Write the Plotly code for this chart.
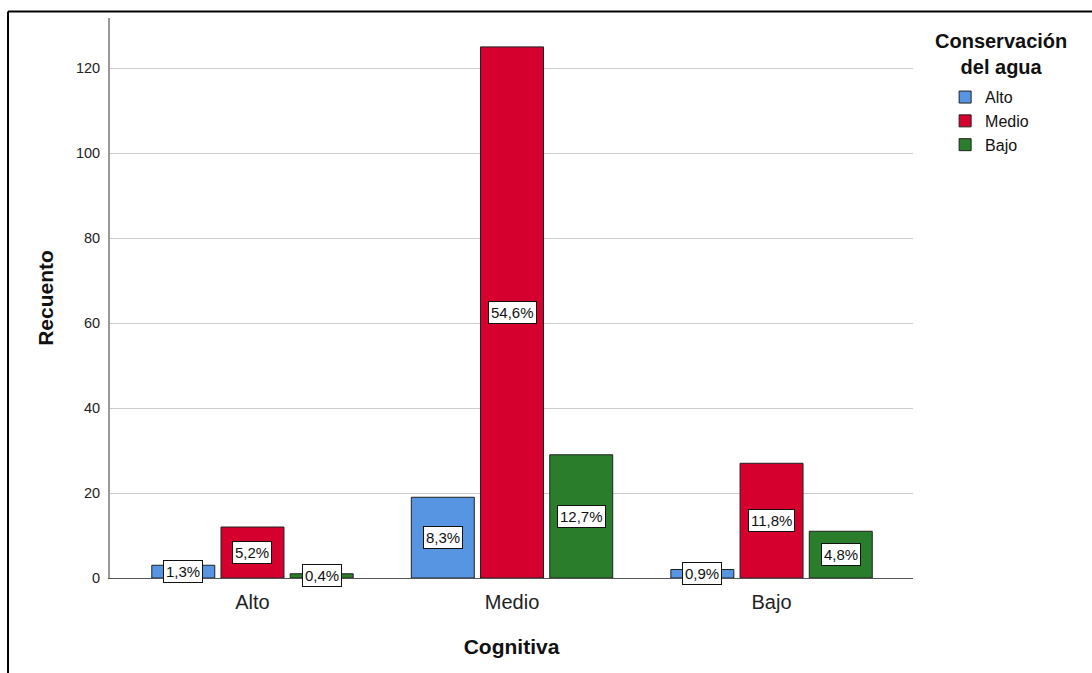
import plotly.graph_objects as go

# Categories of the "Cognitiva" dimension and counts per water-conservation level
categories = ["Alto", "Medio", "Bajo"]
series_names = ["Alto", "Medio", "Bajo"]
counts_alto = [3, 19, 2]
counts_medio = [12, 125, 27]
counts_bajo = [1, 29, 11]
series_values = [counts_alto, counts_medio, counts_bajo]
series_colors = ["#5795E3", "#D5002E", "#2A7D2A"]
y_ticks = [0, 20, 40, 60, 80, 100, 120]

total = sum(sum(v) for v in series_values)

FONT = "Arial, Liberation Sans, sans-serif"
BARGAP = 0.2
BARGROUPGAP = 0.09

fig = go.Figure()
x_idx = list(range(len(categories)))
for name, vals, col in zip(series_names, series_values, series_colors):
    fig.add_trace(go.Bar(
        x=x_idx, y=vals, name=name,
        marker=dict(color=col, line=dict(color="#222222", width=1)),
        hoverinfo="skip",
    ))

# Percentage labels centred on each bar
slot = (1 - BARGAP) / len(series_values)
annotations = []
for i, vals in enumerate(series_values):
    off = (i - (len(series_values) - 1) / 2) * slot
    for j, v in enumerate(vals):
        pct = f"{100 * v / total:.1f}%".replace(".", ",")
        annotations.append(dict(
            x=j + off, y=v / 2, xref="x", yref="y", text=pct,
            showarrow=False, font=dict(family=FONT, size=15, color="#111111"),
            bgcolor="white", bordercolor="#111111", borderwidth=1, borderpad=2,
        ))

# Legend heading
annotations.append(dict(
    x=1.109, y=0.936, xref="paper", yref="paper", xanchor="center", yanchor="middle",
    text="<b>Conservación<br>del agua</b>", showarrow=False, align="center",
    font=dict(family=FONT, size=20, color="#111111"),
))

# Outer frame lines (left and top)
shapes = [
    dict(type="line", xref="paper", yref="paper", x0=-0.127, x1=-0.127, y0=-0.2, y1=1.0115,
         line=dict(color="black", width=2)),
    dict(type="line", xref="paper", yref="paper", x0=-0.127, x1=1.3, y0=1.0115, y1=1.0115,
         line=dict(color="black", width=2)),
]

fig.update_layout(
    width=1092, height=673,
    margin=dict(l=110, r=179, t=18, b=95),
    paper_bgcolor="white", plot_bgcolor="white",
    barmode="group", bargap=BARGAP, bargroupgap=BARGROUPGAP,
    font=dict(family=FONT, color="#111111"),
    showlegend=True,
    legend=dict(
        x=1.04, y=0.889, xanchor="left", yanchor="top",
        font=dict(family=FONT, size=16, color="#111111"),
        tracegroupgap=0, itemwidth=30, traceorder="normal",
    ),
    annotations=annotations,
    shapes=shapes,
    xaxis=dict(
        tickmode="array", tickvals=x_idx, ticktext=categories,
        range=[-0.549, 2.545],
        tickfont=dict(family=FONT, size=20, color="#222222"),
        ticks="outside", ticklen=6, tickcolor="rgba(0,0,0,0)",
        showline=True, linecolor="#555555", linewidth=1,
        showgrid=False, zeroline=False,
        title=dict(text="<b>Cognitiva</b>", font=dict(family=FONT, size=21, color="#111111"), standoff=27),
    ),
    yaxis=dict(
        range=[0, 131.8], tickvals=y_ticks,
        tickfont=dict(family=FONT, size=14.5, color="#222222"),
        ticks="outside", ticklen=5, tickcolor="rgba(0,0,0,0)",
        showline=True, linecolor="#999999", linewidth=2,
        showgrid=True, gridcolor="#CCCCCC", gridwidth=1,
        zeroline=False,
        title=dict(text="<b>Recuento</b>", font=dict(family=FONT, size=21, color="#111111"), standoff=17),
    ),
)

fig.write_html("out.html")
